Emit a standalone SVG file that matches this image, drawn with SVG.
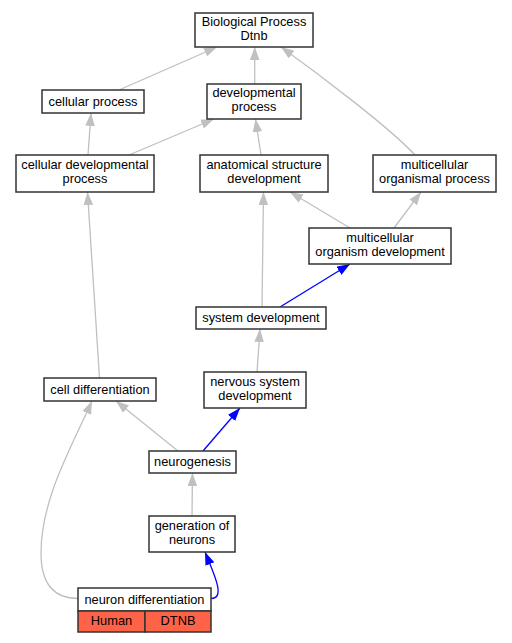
<svg xmlns="http://www.w3.org/2000/svg" width="512" height="643" viewBox="0 0 512 643">
<style>
.n rect{fill:#fff;stroke:#333;stroke-width:1.5}
.n rect.red{fill:#ff6347}
text{font-family:"Liberation Sans",Arial,sans-serif;font-size:12.8px;fill:#000;text-anchor:middle}
.e{fill:none;stroke-width:1.3}
.g{stroke:#c0c0c0;marker-end:url(#ag)}
.b{stroke:#0000ff;marker-end:url(#ab)}
</style>
<defs>
<marker id="ag" markerWidth="14" markerHeight="11" refX="13" refY="4.8" orient="auto" markerUnits="userSpaceOnUse"><path d="M0,0 L13,4.8 L0,9.6 z" fill="#c0c0c0"/></marker>
<marker id="ab" markerWidth="14" markerHeight="11" refX="13" refY="4.8" orient="auto" markerUnits="userSpaceOnUse"><path d="M0,0 L13,4.8 L0,9.6 z" fill="#0000ff"/></marker>
</defs>
<rect width="512" height="643" fill="#fff"/>
<g id="edges">
<path class="e g" d="M119,90 L217,47"/>
<path class="e g" d="M254.7,84 L254.7,47"/>
<path class="e g" d="M415,155 C390,128 320,75 281,47"/>
<path class="e g" d="M88,155 L91,113"/>
<path class="e g" d="M129,155 L214,119"/>
<path class="e g" d="M261,155 L255.5,119"/>
<path class="e g" d="M350,228 L290,192"/>
<path class="e g" d="M394,228 L421,192"/>
<path class="e g" d="M262,307 L263.5,192"/>
<path class="e b" d="M280,307 L350,264"/>
<path class="e g" d="M257,372 L260,329"/>
<path class="e g" d="M99.5,378 L87.5,192"/>
<path class="e g" d="M178,451 L116,401"/>
<path class="e b" d="M203,451 L240,408"/>
<path class="e g" d="M192,516 L192.5,473"/>
<path class="e g" d="M78,598.5 C55,598.5 41,585 41,553 C41,500 70,450 92,401"/>
<path class="e b" d="M211,598.5 C226,598.5 214,574 205,552"/>
</g>
<g id="n_bio" class="n"><rect x="195" y="13" width="118" height="34"/><text x="254" y="25.5">Biological Process</text><text x="254" y="39.9">Dtnb</text></g>
<g id="n_cellular_process" class="n"><rect x="42" y="90" width="102" height="23"/><text x="93" y="105.5">cellular process</text></g>
<g id="n_developmental_process" class="n"><rect x="207" y="84" width="94" height="35"/><text x="254" y="97">developmental</text><text x="254" y="111.4">process</text></g>
<g id="n_cellular_developmental_process" class="n"><rect x="16" y="155" width="138" height="37"/><text x="85" y="169">cellular developmental</text><text x="85" y="183.4">process</text></g>
<g id="n_anatomical_structure_development" class="n"><rect x="200" y="155" width="128" height="37"/><text x="264" y="169">anatomical structure</text><text x="264" y="183.4">development</text></g>
<g id="n_multicellular_organismal_process" class="n"><rect x="373" y="155" width="123" height="37"/><text x="434.5" y="169">multicellular</text><text x="434.5" y="183.4">organismal process</text></g>
<g id="n_multicellular_organism_development" class="n"><rect x="309" y="228" width="142" height="36"/><text x="380" y="241.5">multicellular</text><text x="380" y="255.9">organism development</text></g>
<g id="n_system_development" class="n"><rect x="196" y="307" width="130" height="22"/><text x="261" y="322">system development</text></g>
<g id="n_cell_differentiation" class="n"><rect x="44" y="378" width="112" height="23"/><text x="100" y="393.5">cell differentiation</text></g>
<g id="n_nervous_system_development" class="n"><rect x="204" y="372" width="102" height="36"/><text x="255" y="385.5">nervous system</text><text x="255" y="399.9">development</text></g>
<g id="n_neurogenesis" class="n"><rect x="149" y="451" width="87" height="22"/><text x="192.5" y="466">neurogenesis</text></g>
<g id="n_generation_of_neurons" class="n"><rect x="149" y="516" width="86" height="36"/><text x="192" y="529.5">generation of</text><text x="192" y="543.9">neurons</text></g>
<g id="n_neuron_differentiation" class="n"><rect x="78" y="588" width="133" height="23"/><rect class="red" x="78" y="611" width="67" height="21"/><rect class="red" x="145" y="611" width="66" height="21"/><text x="144.5" y="603.5">neuron differentiation</text><text x="111.5" y="625">Human</text><text x="178" y="625">DTNB</text></g>
</svg>
